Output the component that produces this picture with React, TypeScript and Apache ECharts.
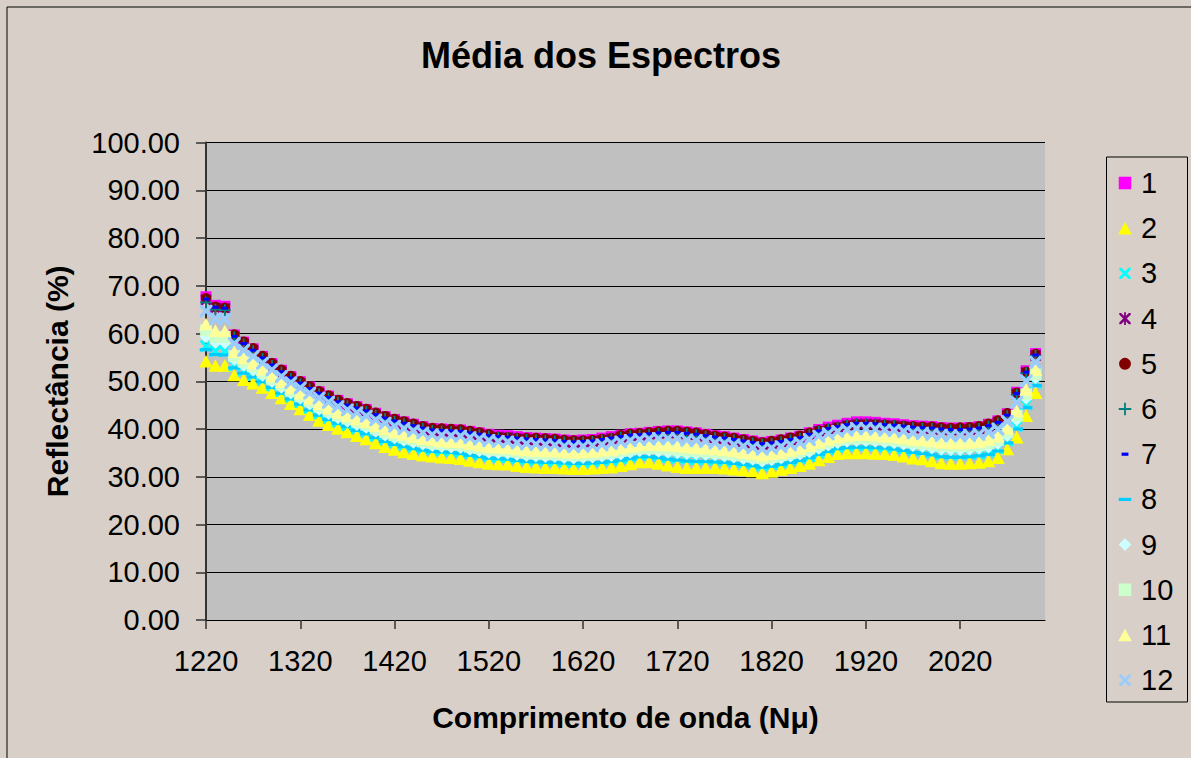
import React, { useEffect, useRef } from 'react';
import * as echarts from 'echarts';

// Wavelength (Nµ) sample positions
const wavelengths = [
  1220, 1230, 1240, 1250, 1260, 1270, 1280, 1290, 1300, 1310,
  1320, 1330, 1340, 1350, 1360, 1370, 1380, 1390, 1400, 1410,
  1420, 1430, 1440, 1450, 1460, 1470, 1480, 1490, 1500, 1510,
  1520, 1530, 1540, 1550, 1560, 1570, 1580, 1590, 1600, 1610,
  1620, 1630, 1640, 1650, 1660, 1670, 1680, 1690, 1700, 1710,
  1720, 1730, 1740, 1750, 1760, 1770, 1780, 1790, 1800, 1810,
  1820, 1830, 1840, 1850, 1860, 1870, 1880, 1890, 1900, 1910,
  1920, 1930, 1940, 1950, 1960, 1970, 1980, 1990, 2000, 2010,
  2020, 2030, 2040, 2050, 2060, 2070, 2080, 2090, 2100,
];

const xTickLabels = [1220, 1320, 1420, 1520, 1620, 1720, 1820, 1920, 2020];

const s1 = [
  67.7, 65.9, 65.7, 59.7, 58.2, 56.8, 55.2, 53.7, 52.3, 51.0,
  49.9, 48.8, 47.8, 46.9, 46.0, 45.3, 44.7, 44.1, 43.3, 42.6,
  42.0, 41.5, 41.0, 40.5, 40.1, 40.0, 39.9, 39.8, 39.5, 39.2,
  38.9, 38.7, 38.6, 38.4, 38.2, 38.1, 38.0, 37.9, 37.7, 37.6,
  37.7, 37.8, 38.1, 38.4, 38.7, 39.0, 39.1, 39.3, 39.5, 39.6,
  39.6, 39.4, 39.2, 38.9, 38.6, 38.4, 38.1, 37.8, 37.5, 37.2,
  37.4, 37.7, 38.1, 38.5, 39.2, 39.9, 40.4, 40.8, 41.2, 41.5,
  41.5, 41.4, 41.2, 41.1, 40.9, 40.7, 40.6, 40.5, 40.3, 40.2,
  40.2, 40.3, 40.5, 41.0, 41.7, 43.2, 47.7, 52.2, 55.8,
];
const s2 = [
  54.2, 53.3, 53.3, 51.3, 50.3, 49.6, 48.7, 47.6, 46.5, 45.3,
  44.2, 43.0, 41.8, 40.9, 40.1, 39.4, 38.6, 37.9, 37.1, 36.3,
  35.7, 35.2, 34.8, 34.5, 34.3, 34.1, 34.0, 33.8, 33.4, 33.1,
  32.8, 32.7, 32.6, 32.3, 32.1, 32.0, 31.9, 31.9, 31.8, 31.7,
  31.7, 31.8, 31.9, 32.0, 32.3, 32.7, 33.1, 33.1, 32.8, 32.4,
  32.1, 31.9, 31.9, 31.9, 31.9, 31.8, 31.6, 31.4, 31.2, 30.8,
  31.1, 31.5, 31.9, 32.3, 32.8, 33.5, 34.2, 34.8, 35.0, 35.0,
  35.0, 34.9, 34.8, 34.6, 34.3, 33.9, 33.7, 33.3, 32.9, 32.8,
  32.8, 32.9, 33.0, 33.3, 34.0, 35.8, 38.3, 42.8, 47.6,
];
const s3 = [
  57.4, 56.3, 56.3, 53.3, 52.2, 51.3, 50.3, 49.1, 47.9, 46.7,
  45.6, 44.4, 43.2, 42.3, 41.5, 40.8, 40.1, 39.4, 38.6, 37.8,
  37.2, 36.7, 36.3, 35.9, 35.7, 35.5, 35.4, 35.2, 34.9, 34.6,
  34.3, 34.1, 34.0, 33.8, 33.6, 33.5, 33.4, 33.3, 33.2, 33.1,
  33.1, 33.2, 33.4, 33.5, 33.8, 34.2, 34.5, 34.6, 34.4, 34.1,
  33.9, 33.7, 33.6, 33.6, 33.5, 33.4, 33.2, 32.9, 32.7, 32.3,
  32.6, 33.0, 33.4, 33.8, 34.3, 35.0, 35.7, 36.2, 36.5, 36.6,
  36.6, 36.5, 36.3, 36.2, 35.9, 35.5, 35.4, 35.0, 34.7, 34.6,
  34.6, 34.7, 34.8, 35.2, 35.9, 37.6, 40.6, 45.1, 49.6,
];
const s4 = [
  67.0, 65.3, 65.2, 59.3, 57.8, 56.4, 54.8, 53.3, 51.9, 50.6,
  49.5, 48.4, 47.4, 46.5, 45.6, 44.9, 44.3, 43.7, 42.9, 42.2,
  41.6, 41.1, 40.6, 40.1, 39.7, 39.6, 39.5, 39.4, 39.1, 38.8,
  38.5, 38.3, 38.2, 38.0, 37.8, 37.7, 37.6, 37.5, 37.3, 37.2,
  37.3, 37.4, 37.7, 38.0, 38.3, 38.6, 38.7, 38.9, 39.1, 39.2,
  39.2, 39.0, 38.8, 38.5, 38.2, 38.0, 37.7, 37.4, 37.1, 36.8,
  37.0, 37.3, 37.7, 38.1, 38.8, 39.5, 40.0, 40.4, 40.8, 41.1,
  41.1, 41.0, 40.8, 40.7, 40.5, 40.3, 40.2, 40.1, 39.9, 39.8,
  39.8, 39.9, 40.1, 40.6, 41.3, 42.8, 47.3, 51.8, 55.4,
];
const s5 = [
  67.4, 65.6, 65.4, 59.8, 58.3, 56.9, 55.3, 53.8, 52.4, 51.1,
  50.0, 48.9, 47.9, 47.0, 46.1, 45.4, 44.8, 44.2, 43.4, 42.7,
  42.1, 41.6, 41.1, 40.6, 40.2, 40.1, 40.0, 39.9, 39.6, 39.3,
  38.9, 38.4, 38.3, 38.1, 38.1, 38.1, 38.0, 37.9, 37.7, 37.6,
  37.6, 37.7, 37.9, 38.1, 38.7, 39.0, 39.1, 39.3, 39.5, 39.6,
  39.6, 39.4, 39.2, 38.9, 38.6, 38.4, 38.1, 37.8, 37.5, 37.2,
  37.5, 37.8, 38.2, 38.6, 39.2, 39.7, 40.0, 40.4, 40.8, 41.0,
  41.0, 41.0, 40.9, 40.8, 40.7, 40.6, 40.5, 40.5, 40.3, 40.2,
  40.3, 40.4, 40.6, 41.1, 41.8, 43.3, 47.6, 52.0, 55.7,
];
const s6 = [
  66.5, 65.0, 64.9, 59.2, 57.7, 56.3, 54.7, 53.2, 51.8, 50.5,
  49.4, 48.3, 47.3, 46.4, 45.5, 44.8, 44.2, 43.6, 42.8, 42.1,
  41.5, 41.0, 40.5, 40.0, 39.6, 39.5, 39.4, 39.3, 39.0, 38.7,
  38.4, 38.2, 38.1, 37.9, 37.7, 37.6, 37.5, 37.4, 37.2, 37.1,
  37.2, 37.3, 37.6, 37.9, 38.2, 38.5, 38.6, 38.8, 39.0, 39.1,
  39.1, 38.9, 38.7, 38.4, 38.1, 37.9, 37.6, 37.3, 37.0, 36.7,
  36.9, 37.2, 37.6, 38.0, 38.7, 39.4, 39.9, 40.3, 40.7, 41.0,
  41.0, 40.9, 40.7, 40.6, 40.4, 40.2, 40.1, 40.0, 39.8, 39.7,
  39.7, 39.8, 40.0, 40.5, 41.2, 42.7, 47.2, 51.7, 55.3,
];
const s7 = [
  67.2, 65.5, 65.3, 59.4, 57.9, 56.5, 54.9, 53.4, 52.0, 50.7,
  49.6, 48.5, 47.5, 46.6, 45.7, 45.0, 44.4, 43.8, 43.0, 42.3,
  41.7, 41.2, 40.7, 40.2, 39.8, 39.7, 39.6, 39.5, 39.2, 38.9,
  38.6, 38.4, 38.3, 38.1, 37.9, 37.8, 37.7, 37.6, 37.4, 37.3,
  37.4, 37.5, 37.8, 38.1, 38.4, 38.7, 38.8, 39.0, 39.2, 39.3,
  39.3, 39.1, 38.9, 38.6, 38.3, 38.1, 37.8, 37.5, 37.2, 36.9,
  37.1, 37.4, 37.8, 38.2, 38.9, 39.6, 40.1, 40.5, 40.9, 41.2,
  41.2, 41.1, 40.9, 40.8, 40.6, 40.4, 40.3, 40.2, 40.0, 39.9,
  39.9, 40.0, 40.2, 40.7, 41.4, 42.9, 47.4, 51.9, 55.5,
];
const s8 = [
  56.6, 55.6, 55.5, 52.8, 51.7, 50.9, 49.9, 48.7, 47.5, 46.3,
  45.2, 44.0, 42.9, 42.0, 41.2, 40.5, 39.7, 39.0, 38.2, 37.4,
  36.8, 36.3, 35.9, 35.6, 35.3, 35.2, 35.1, 34.9, 34.5, 34.2,
  33.9, 33.8, 33.7, 33.4, 33.2, 33.1, 33.0, 33.0, 32.9, 32.8,
  32.8, 32.9, 33.0, 33.2, 33.5, 33.8, 34.2, 34.2, 34.0, 33.7,
  33.5, 33.3, 33.2, 33.2, 33.1, 33.0, 32.8, 32.6, 32.3, 32.0,
  32.2, 32.6, 33.0, 33.4, 34.0, 34.7, 35.3, 35.9, 36.1, 36.2,
  36.2, 36.1, 36.0, 35.8, 35.5, 35.1, 34.9, 34.6, 34.2, 34.1,
  34.1, 34.2, 34.4, 34.7, 35.4, 37.1, 40.0, 44.5, 49.1,
];
const s9 = [
  59.3, 58.1, 58.0, 54.5, 53.3, 52.3, 51.2, 49.9, 48.7, 47.5,
  46.4, 45.2, 44.1, 43.2, 42.3, 41.6, 40.9, 40.3, 39.5, 38.7,
  38.1, 37.6, 37.2, 36.8, 36.5, 36.3, 36.2, 36.1, 35.7, 35.4,
  35.1, 35.0, 34.9, 34.6, 34.4, 34.3, 34.2, 34.2, 34.0, 33.9,
  34.0, 34.1, 34.3, 34.4, 34.7, 35.1, 35.4, 35.5, 35.3, 35.1,
  35.0, 34.8, 34.7, 34.6, 34.5, 34.3, 34.1, 33.8, 33.6, 33.2,
  33.5, 33.9, 34.3, 34.7, 35.2, 35.9, 36.6, 37.1, 37.4, 37.5,
  37.5, 37.4, 37.2, 37.1, 36.8, 36.5, 36.3, 36.0, 35.7, 35.6,
  35.6, 35.7, 35.9, 36.2, 36.9, 38.6, 41.9, 46.4, 50.7,
];
const s10 = [
  60.7, 59.3, 59.3, 55.3, 54.1, 53.1, 51.8, 50.5, 49.3, 48.0,
  46.9, 45.8, 44.7, 43.8, 42.9, 42.2, 41.5, 40.9, 40.1, 39.3,
  38.7, 38.2, 37.8, 37.4, 37.1, 36.9, 36.8, 36.7, 36.3, 36.0,
  35.7, 35.6, 35.5, 35.2, 35.0, 34.9, 34.8, 34.8, 34.6, 34.5,
  34.6, 34.7, 34.9, 35.1, 35.4, 35.7, 36.0, 36.1, 36.0, 35.9,
  35.7, 35.5, 35.4, 35.3, 35.1, 35.0, 34.7, 34.5, 34.2, 33.9,
  34.1, 34.5, 34.9, 35.3, 35.9, 36.6, 37.2, 37.7, 38.0, 38.1,
  38.1, 38.0, 37.9, 37.7, 37.5, 37.2, 37.0, 36.8, 36.5, 36.4,
  36.4, 36.5, 36.6, 37.0, 37.7, 39.4, 42.8, 47.3, 51.5,
];
const s11 = [
  62.0, 60.6, 60.5, 56.2, 54.9, 53.8, 52.5, 51.1, 49.9, 48.6,
  47.5, 46.4, 45.3, 44.4, 43.5, 42.8, 42.1, 41.5, 40.7, 40.0,
  39.4, 38.9, 38.4, 38.0, 37.7, 37.5, 37.4, 37.3, 36.9, 36.6,
  36.3, 36.2, 36.1, 35.8, 35.6, 35.5, 35.4, 35.4, 35.2, 35.1,
  35.2, 35.3, 35.5, 35.7, 36.0, 36.4, 36.6, 36.7, 36.7, 36.6,
  36.5, 36.3, 36.1, 36.0, 35.8, 35.6, 35.4, 35.1, 34.9, 34.5,
  34.8, 35.1, 35.5, 35.9, 36.5, 37.2, 37.8, 38.3, 38.6, 38.8,
  38.8, 38.7, 38.5, 38.4, 38.1, 37.8, 37.7, 37.5, 37.2, 37.1,
  37.1, 37.2, 37.4, 37.8, 38.5, 40.1, 43.8, 48.3, 52.4,
];
const s12 = [
  64.7, 63.1, 63.0, 57.9, 56.5, 55.2, 53.8, 52.4, 51.0, 49.7,
  48.6, 47.5, 46.5, 45.6, 44.7, 44.0, 43.4, 42.7, 41.9, 41.2,
  40.6, 40.1, 39.6, 39.2, 38.8, 38.7, 38.6, 38.5, 38.2, 37.9,
  37.6, 37.4, 37.3, 37.1, 36.9, 36.8, 36.7, 36.6, 36.4, 36.3,
  36.4, 36.5, 36.7, 37.0, 37.3, 37.6, 37.8, 37.9, 38.0, 38.0,
  38.0, 37.7, 37.6, 37.4, 37.1, 37.0, 36.7, 36.4, 36.1, 35.8,
  36.0, 36.3, 36.7, 37.1, 37.8, 38.5, 39.0, 39.5, 39.8, 40.1,
  40.1, 40.0, 39.8, 39.7, 39.5, 39.2, 39.1, 38.9, 38.7, 38.6,
  38.6, 38.7, 38.9, 39.3, 40.0, 41.6, 45.6, 50.1, 54.0,
];

const seriesNames = ['1', '2', '3', '4', '5', '6', '7', '8', '9', '10', '11', '12'];
const seriesValues = [s1, s2, s3, s4, s5, s6, s7, s8, s9, s10, s11, s12];
const seriesColors = [
  '#FF00FF', '#FFFF00', '#00FFFF', '#800080', '#800000', '#008080',
  '#0000FF', '#00CCFF', '#CCFFFF', '#CCFFCC', '#FFFF99', '#99CCFF',
];

const PAD = 'M0,0L0,0M14,14L14,14';
const SQUARE = `path://${PAD}M1.5,1.5H12.5V12.5H1.5Z`;
const TRIANGLE = `path://${PAD}M7,1.5L13,12.5H1Z`;
const XMARK = `path://${PAD}M2,2L3.8,2L7,5.2L10.2,2L12,2L12,3.8L8.8,7L12,10.2L12,12L10.2,12L7,8.8L3.8,12L2,12L2,10.2L5.2,7L2,3.8Z`;
const STAR = `path://${PAD}M2,2L3.6,2L7,5.4L10.4,2L12,2L12,3.6L8.6,7L12,10.4L12,12L10.4,12L7,8.6L3.6,12L2,12L2,10.4L5.4,7L2,3.6ZM6.2,1.5H7.8V12.5H6.2Z`;
const CIRCLE = `path://${PAD}M7,1.8A5.2,5.2,0,1,1,6.99,1.8Z`;
const PLUS = `path://${PAD}M6.2,1.5H7.8V6.2H12.5V7.8H7.8V12.5H6.2V7.8H1.5V6.2H6.2Z`;
const DASH_SHORT = `path://${PAD}M4,5.6H10V8.4H4Z`;
const DASH_LONG = `path://${PAD}M1.5,5.6H12.5V8.4H1.5Z`;
const DIAMOND = `path://${PAD}M7,1.5L12.5,7L7,12.5L1.5,7Z`;

const seriesSymbols = [
  SQUARE, TRIANGLE, XMARK, STAR, CIRCLE, PLUS,
  DASH_SHORT, DASH_LONG, DIAMOND, SQUARE, TRIANGLE, XMARK,
];
const seriesSymbolSizes = [14, 16, 16, 15, 14, 15, 15, 16, 16, 15, 16, 18];

const FONT = 'Liberation Sans, Arial, Helvetica, sans-serif';

export default function App() {
  const ref = useRef<HTMLDivElement>(null);

  useEffect(() => {
    if (!ref.current) return;
    const chart = echarts.init(ref.current, undefined, { renderer: 'svg' });

    const series = seriesNames.map((name, k) => ({
      name,
      type: 'scatter',
      symbol: seriesSymbols[k],
      symbolSize: seriesSymbolSizes[k],
      itemStyle: { color: seriesColors[k], opacity: 1 },
      emphasis: { disabled: true },
      silent: true,
      data: wavelengths.map((w, i) => [w, seriesValues[k][i]]),
    }));

    chart.setOption({
      animation: false,
      backgroundColor: '#D8D0C8',
      textStyle: { fontFamily: FONT },
      grid: {
        left: 206,
        top: 142.5,
        width: 839,
        height: 477.5,
        show: true,
        backgroundColor: '#C0C0C0',
        borderWidth: 0,
      },
      graphic: [
        {
          type: 'rect',
          shape: { x: 7, y: 7, width: 1300, height: 900 },
          style: { fill: 'none', stroke: '#000', lineWidth: 1 },
          silent: true,
        },
        {
          type: 'rect',
          shape: { x: 1106.5, y: 157, width: 81, height: 545 },
          style: { fill: 'none', stroke: '#000', lineWidth: 1 },
          silent: true,
        },
        {
          type: 'text',
          x: 601,
          y: 55,
          style: {
            text: 'Média dos Espectros',
            font: `bold 36px ${FONT}`,
            fill: '#000',
            textAlign: 'center',
            textVerticalAlign: 'middle',
          },
        },
      ],
      legend: {
        orient: 'vertical',
        left: 1117,
        top: 168.5,
        padding: 0,
        itemWidth: 22,
        itemHeight: 16,
        itemGap: 16.2,
        selectedMode: false,
        textStyle: { fontSize: 29, color: '#000', fontFamily: FONT, lineHeight: 29 },
        data: seriesNames.map((name, k) => ({ name, icon: seriesSymbols[k] })),
      },
      xAxis: {
        type: 'value',
        min: 1220,
        max: 2110,
        interval: 100,
        name: 'Comprimento de onda (Nμ)',
        nameLocation: 'middle',
        nameGap: 82,
        nameTextStyle: { fontSize: 30, fontWeight: 'bold', color: '#000', fontFamily: FONT },
        axisLine: { show: true, onZero: false, lineStyle: { color: '#000', width: 1 } },
        axisTick: {
          show: true,
          length: 9,
          lineStyle: { color: '#333', width: 1.5 },
          customValues: xTickLabels,
        },
        axisLabel: {
          fontSize: 29,
          color: '#000',
          margin: 26,
          fontFamily: FONT,
          customValues: xTickLabels,
          formatter: (v: number) => String(v),
        },
        splitLine: { show: false },
      },
      yAxis: {
        type: 'value',
        min: 0,
        max: 100,
        interval: 10,
        name: 'Reflectância (%)',
        nameLocation: 'middle',
        nameGap: 134,
        nameRotate: 90,
        nameTextStyle: { fontSize: 30, fontWeight: 'bold', color: '#000', fontFamily: FONT },
        axisLine: { show: true, lineStyle: { color: '#333', width: 2 } },
        axisTick: { show: true, length: 10, lineStyle: { color: '#333', width: 1.5 } },
        axisLabel: {
          fontSize: 29,
          color: '#000',
          margin: 26,
          fontFamily: FONT,
          formatter: (v: number) => v.toFixed(2),
        },
        splitLine: { show: true, lineStyle: { color: '#000', width: 1 } },
      },
      series,
    });

    return () => {
      chart.dispose();
    };
  }, []);

  return (
    <div
      ref={ref}
      style={{ position: 'absolute', left: 0, top: 0, width: 1191, height: 758 }}
    />
  );
}
